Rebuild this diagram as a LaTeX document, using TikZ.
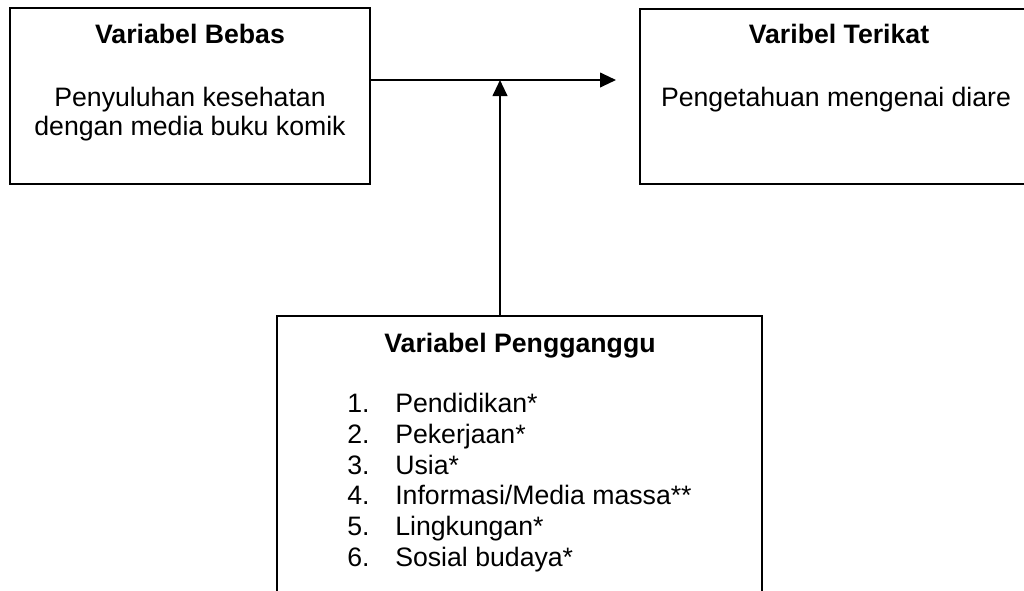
\documentclass[tikz,border=0pt]{standalone}
\usepackage{fontspec}
\setmainfont{Liberation Sans}
\usetikzlibrary{arrows.meta}

\tikzset{
  box/.style = {draw, line width=1.5pt, inner sep=0pt},
  txt/.style = {anchor=base, inner sep=0pt, font=\fontsize{20}{24}\selectfont},
  ttl/.style = {txt, font=\fontsize{20}{24}\selectfont\bfseries},
  arr/.style = {line width=1.5pt, -{Triangle[length=12pt,width=11pt]}}
}

\begin{document}
\begin{tikzpicture}[x = 0.75pt, y = -0.75pt]

\useasboundingbox (0,0) rectangle (1024,590);
\clip (0,0) rectangle (1024,590);

\node[box, minimum width=360*0.75pt, minimum height=176*0.75pt] (bebas) at (190,95.5) {};
\node[box, minimum width=396*0.75pt, minimum height=175*0.75pt] (terikat) at (838,96.5) {};
\node[box, minimum width=485*0.75pt, minimum height=320*0.75pt] (ganggu) at (519.5,476) {};

\node[ttl] (bebasT) at (190,43) {Variabel Bebas};
\node[txt] (bebas1) at (190,106) {Penyuluhan kesehatan};
\node[txt] (bebas2) at (190,135) {dengan media buku komik};

\node[ttl] (terikatT) at (839,43) {Varibel Terikat};
\node[txt] (terikat1) at (836,106) {Pengetahuan mengenai diare};

\node[ttl] (gangguT) at (520,352) {Variabel Pengganggu};
\foreach \i/\s in {1/Pendidikan*, 2/Pekerjaan*, 3/Usia*, 4/{Informasi/Media massa**}, 5/Lingkungan*, 6/Sosial budaya*} {
  \node[txt, anchor=base west] (num\i) at (347,{412.7+30.7*(\i-1)}) {\i.};
  \node[txt, anchor=base west] (item\i) at (395,{412.7+30.7*(\i-1)}) {\s};
}

\coordinate (tip) at (616,80);
\coordinate (join) at (500,80);
\draw[arr] (bebas.east |- tip) -- (tip);
\draw[arr] (ganggu.north -| join) -- (join);

\end{tikzpicture}
\end{document}
